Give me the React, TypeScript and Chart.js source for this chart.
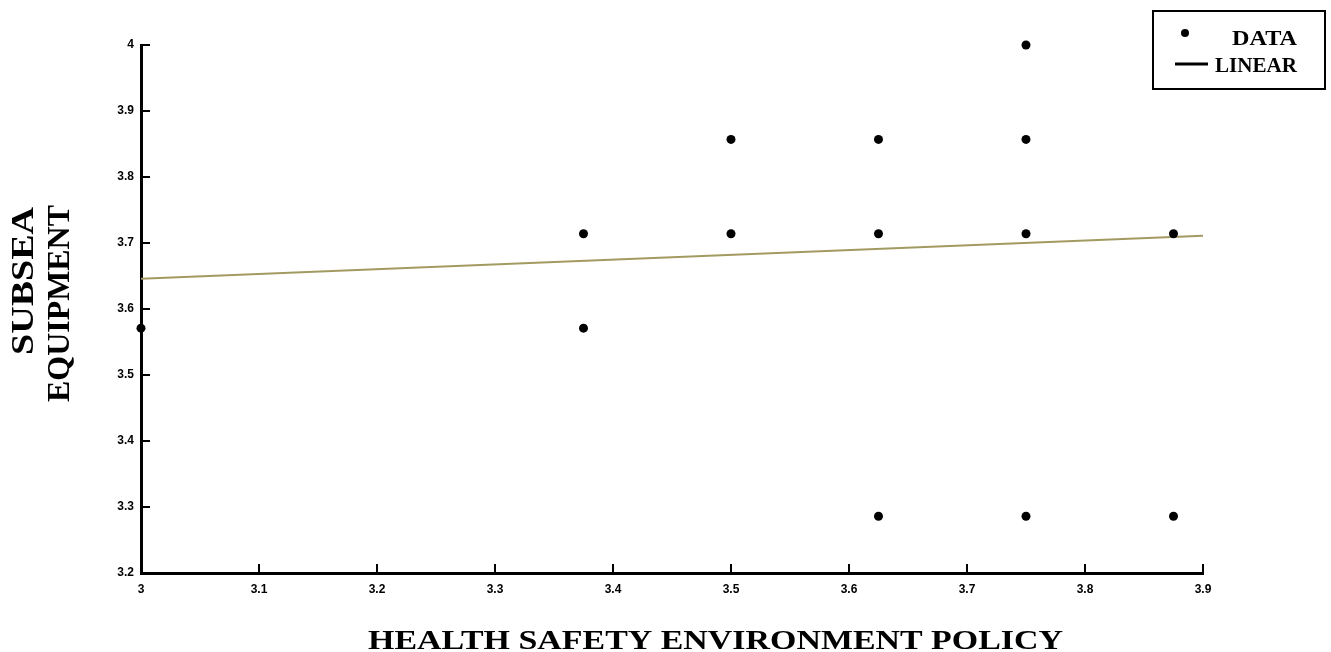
import React, { useEffect, useRef } from "react";
import { Chart, registerables } from "chart.js";

Chart.register(...registerables);

const dataX = [3.0, 3.375, 3.375, 3.5, 3.5, 3.625, 3.625, 3.625, 3.75, 3.75, 3.75, 3.75, 3.875, 3.875];
const dataY = [3.571, 3.714, 3.571, 3.857, 3.714, 3.857, 3.714, 3.286, 4.0, 3.857, 3.714, 3.286, 3.714, 3.286];

const fitX = [3.0, 3.9];
const fitY = [3.646, 3.711];

const xTicks = [3, 3.1, 3.2, 3.3, 3.4, 3.5, 3.6, 3.7, 3.8, 3.9];
const xTickLabels = ["3", "3.1", "3.2", "3.3", "3.4", "3.5", "3.6", "3.7", "3.8", "3.9"];
const yTicks = [3.2, 3.3, 3.4, 3.5, 3.6, 3.7, 3.8, 3.9, 4];
const yTickLabels = ["3.2", "3.3", "3.4", "3.5", "3.6", "3.7", "3.8", "3.9", "4"];

const xTitle = "HEALTH SAFETY ENVIRONMENT POLICY";
const yTitleLines = ["SUBSEA", "EQUIPMENT"];
const legendLabels = ["DATA", "LINEAR"];

const SERIF = "'Liberation Serif', 'Times New Roman', serif";

function fitText(ctx: CanvasRenderingContext2D, text: string, width: number) {
  const w = ctx.measureText(text).width;
  ctx.save();
  ctx.scale(width / w, 1);
  ctx.fillText(text, 0, 0);
  ctx.restore();
}

const decorPlugin = {
  id: "decor",
  afterDraw(chart: any) {
    const ctx: CanvasRenderingContext2D = chart.ctx;
    const xs = chart.scales.x;
    const ys = chart.scales.y;
    const area = chart.chartArea;
    ctx.save();
    // inward tick marks
    ctx.strokeStyle = "#000";
    ctx.lineWidth = 2;
    ctx.beginPath();
    yTicks.forEach((v) => {
      const py = ys.getPixelForValue(v);
      ctx.moveTo(area.left, py);
      ctx.lineTo(area.left + 9, py);
    });
    xTicks.forEach((v) => {
      const px = xs.getPixelForValue(v);
      ctx.moveTo(px, area.bottom);
      ctx.lineTo(px, area.bottom - 9);
    });
    ctx.stroke();

    // axis titles
    ctx.fillStyle = "#000";
    ctx.textAlign = "left";
    ctx.textBaseline = "alphabetic";
    ctx.font = `bold 28px ${SERIF}`;
    ctx.save();
    ctx.translate(368, 649);
    fitText(ctx, xTitle, 695);
    ctx.restore();

    ctx.font = `bold 32px ${SERIF}`;
    const yT = [
      { x: 33, y: 355, w: 148 },
      { x: 69, y: 402, w: 197 },
    ];
    yTitleLines.forEach((t, i) => {
      ctx.save();
      ctx.translate(yT[i].x, yT[i].y);
      ctx.rotate(-Math.PI / 2);
      fitText(ctx, t, yT[i].w);
      ctx.restore();
    });

    // legend box
    ctx.lineWidth = 2;
    ctx.strokeStyle = "#000";
    ctx.fillStyle = "#fff";
    ctx.fillRect(1153, 11, 172, 78);
    ctx.strokeRect(1153, 11, 172, 78);
    ctx.fillStyle = "#000";
    ctx.beginPath();
    ctx.arc(1185, 33, 4, 0, Math.PI * 2);
    ctx.fill();
    ctx.lineWidth = 3;
    ctx.beginPath();
    ctx.moveTo(1175, 64);
    ctx.lineTo(1208, 64);
    ctx.stroke();
    ctx.font = `bold 22px ${SERIF}`;
    ctx.save();
    ctx.translate(1232, 45);
    fitText(ctx, legendLabels[0], 65);
    ctx.restore();
    ctx.save();
    ctx.translate(1215, 72);
    fitText(ctx, legendLabels[1], 82);
    ctx.restore();
    ctx.restore();
  },
};

export default function App() {
  const ref = useRef<HTMLCanvasElement | null>(null);
  useEffect(() => {
    document.body.style.margin = "0";
    const canvas = ref.current!;
    const tickFont = { family: "'Liberation Sans', Arial, sans-serif", size: 12, weight: "bold" as const };
    const chart = new Chart(canvas, {
      type: "scatter",
      data: {
        datasets: [
          {
            type: "line",
            label: "LINEAR",
            data: fitX.map((x, i) => ({ x, y: fitY[i] })),
            borderColor: "#a39a62",
            borderWidth: 2,
            pointRadius: 0,
            fill: false,
            showLine: true,
            order: 2,
          } as any,
          {
            type: "scatter",
            label: "DATA",
            data: dataX.map((x, i) => ({ x, y: dataY[i] })),
            backgroundColor: "#000",
            borderColor: "#000",
            pointRadius: 4.5,
            borderWidth: 0,
            clip: false,
            order: 1,
          } as any,
        ],
      },
      options: {
        responsive: false,
        animation: false,
        layout: { padding: { left: 0, right: 128, top: 45, bottom: 0 } },
        plugins: { legend: { display: false }, tooltip: { enabled: false } },
        scales: {
          x: {
            type: "linear",
            min: 3,
            max: 3.9,
            grid: { display: false, drawTicks: false },
            border: { display: true, color: "#000", width: 3 },
            afterBuildTicks: (s: any) => {
              s.ticks = xTicks.map((v) => ({ value: v }));
            },
            afterFit: (s: any) => {
              s.height = 79;
            },
            ticks: {
              color: "#000",
              font: tickFont,
              padding: 9,
              maxRotation: 0,
              autoSkip: false,
              callback: (_v: any, i: number) => xTickLabels[i],
            },
          },
          y: {
            type: "linear",
            min: 3.2,
            max: 4,
            grid: { display: false, drawTicks: false },
            border: { display: true, color: "#000", width: 3 },
            afterBuildTicks: (s: any) => {
              s.ticks = yTicks.map((v) => ({ value: v }));
            },
            afterFit: (s: any) => {
              s.width = 141;
            },
            ticks: {
              color: "#000",
              font: tickFont,
              padding: 7,
              autoSkip: false,
              callback: (_v: any, i: number) => yTickLabels[i],
            },
          },
        },
      },
      plugins: [decorPlugin],
    });
    return () => chart.destroy();
  }, []);
  return (
    <div style={{ width: 1331, height: 652, background: "#fff" }}>
      <canvas ref={ref} width={1331} height={652} style={{ display: "block" }} />
    </div>
  );
}
